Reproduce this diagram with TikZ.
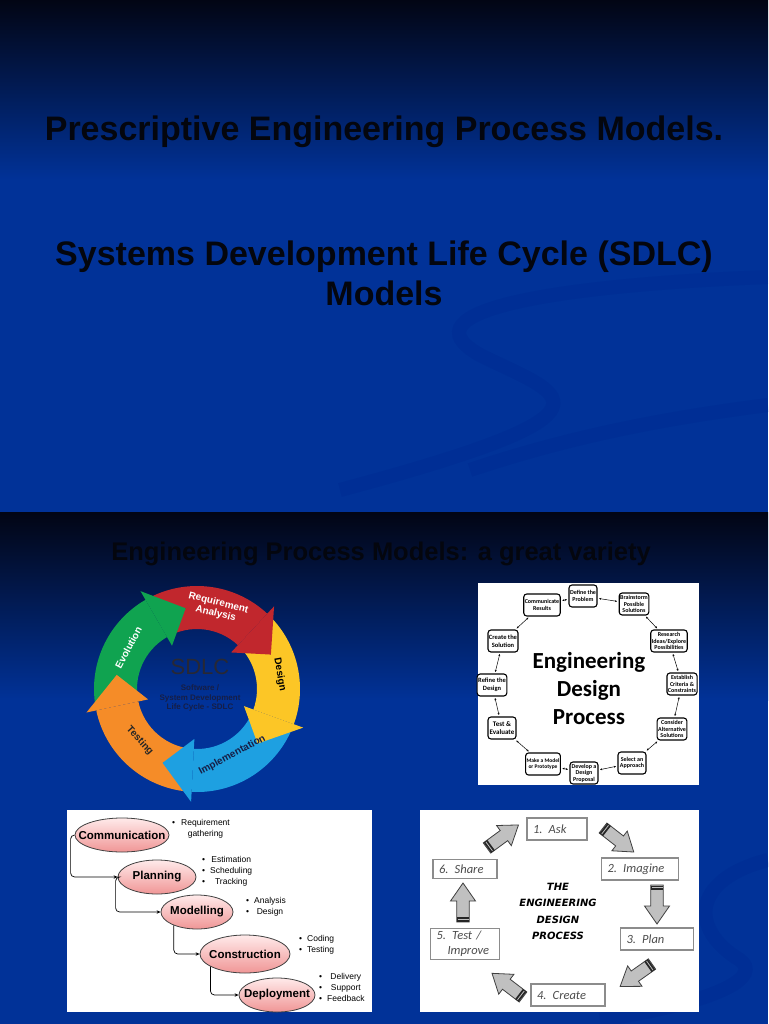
\documentclass[tikz,border=0pt]{standalone}
\usepackage{fontspec}
\setmainfont{Liberation Sans}
\newfontfamily\calfont{Carlito}
\newfontfamily\dvfont{DejaVu Sans}
\usetikzlibrary{arrows.meta,shapes.geometric,calc}

\definecolor{slideblue}{RGB}{1,50,152}
\definecolor{slidetop}{RGB}{2,5,20}
\definecolor{titleink}{RGB}{4,6,14}
\definecolor{sdlcred}{RGB}{193,39,45}
\definecolor{sdlcyellow}{RGB}{252,198,38}
\definecolor{sdlcblue}{RGB}{30,160,225}
\definecolor{sdlcorange}{RGB}{245,140,40}
\definecolor{sdlcgreen}{RGB}{16,163,80}
\definecolor{sdlcgray}{RGB}{40,40,52}
\definecolor{sdlcnavy}{RGB}{22,30,70}
\definecolor{pinktop}{RGB}{255,234,234}
\definecolor{pinkbot}{RGB}{240,150,150}
\definecolor{arrgray}{RGB}{192,192,192}

\newcommand\fsz[2]{\fontsize{#1}{#2}\selectfont}

\tikzset{
  titletext/.style={font=\bfseries\fsz{34}{40}, text=titleink, inner sep=0},
  swoosh/.style={line width=14, draw=blue!45!black, opacity=0.08},
  ringlbl/.style={font=\bfseries\fsz{10}{11}, inner sep=0, align=center},
  edpbox/.style={draw, rounded corners=3, line width=1.1, fill=white,
    minimum width=28, minimum height=22, inner sep=1, align=center,
    font=\calfont\bfseries\fsz{6}{6.5}},
  duoarr/.style={{Stealth[length=2.2,width=2]}-{Stealth[length=2.2,width=2]},
    line width=0.5, shorten <=1.5, shorten >=1.5},
  phase/.style={ellipse, draw=black!75, line width=0.8, top color=pinktop,
    bottom color=pinkbot, inner sep=0},
  phasetext/.style={font=\bfseries\fsz{11.5}{12}, inner sep=0},
  flow/.style={-{Stealth[length=4,width=3.5]}, line width=0.7, rounded corners=4},
  bul/.style={font=\fsz{8.5}{11}, anchor=west, inner sep=0},
  stepbox/.style={draw=black!45, line width=1.1, fill=white, inner xsep=6,
    inner ysep=3, minimum height=22, align=left, text=black!70,
    font=\calfont\itshape\fsz{12.5}{15}},
  barrow/.pic={
    \fill[arrgray, draw=black!75, line width=0.8] (0,-6.3) -- (21,-6.3) -- (21,-12.5)
      -- (39,0) -- (21,12.5) -- (21,6.3) -- (0,6.3) -- cycle;
    \fill[black!85] (0.5,-6.3) rectangle (5,6.3);
    \draw[arrgray, line width=0.8] (2.7,-5.5) -- (2.7,5.5);
  }
}

\begin{document}
\begin{tikzpicture}[x=1pt, y=-1pt]
\useasboundingbox (0,0) rectangle (768,1024);

% slides
\shade[top color=slidetop, bottom color=slideblue] (0,0) rectangle (768,180);
\fill[slideblue] (0,180) rectangle (768,512);
\shade[top color=slidetop, bottom color=slideblue] (0,512) rectangle (768,700);
\fill[slideblue] (0,700) rectangle (768,1024);
\draw[swoosh] (768,277) .. controls (560,285) and (400,310) .. (480,355)
  .. controls (560,395) and (640,410) .. (340,490);
\draw[swoosh] (768,405) .. controls (650,420) and (560,440) .. (470,470);
\draw[swoosh] (768,860) .. controls (690,880) and (690,930) .. (740,960)
  .. controls (760,975) and (730,1000) .. (600,1020);

\node[titletext, anchor=base] (head1) at (384,141) {Prescriptive Engineering Process Models.};
\node[titletext, anchor=base] (head2) at (384,265) {Systems Development Life Cycle (SDLC)};
\node[titletext, anchor=base] (head3) at (384,305) {Models};
\node[titletext, font=\bfseries\fsz{25.5}{30}, anchor=base] (head4) at (381,560)
  {Engineering Process Models: a great variety};

% SDLC ring
\begin{scope}[shift={(197,689)}, yscale=-1]
  \foreach \s/\b/\col in {120/47/sdlcred, 47/-20/sdlcyellow, -20/-93/sdlcblue,
                          -93/-168/sdlcorange, 192/120/sdlcgreen}
    \fill[\col] (\s:103) arc[start angle=\s, end angle=\b, radius=103]
      -- (\b:60) arc[start angle=\b, end angle=\s, radius=60] -- ({\s-22}:81.5) -- cycle;
  \foreach \b/\col in {47/sdlcred, -20/sdlcyellow, -93/sdlcblue,
                       -168/sdlcorange, 120/sdlcgreen}
    \fill[\col] (\b:113) -- ({\b-22}:81.5) -- (\b:50) -- cycle;
  \node[ringlbl, text=white, rotate=-14] (req) at (76:83) {Requirement\\Analysis};
  \node[ringlbl, text=black, rotate=-80] (des) at (10:84) {Design};
  \node[ringlbl, text=sdlcnavy, rotate=28] (imp) at (-62:75) {Implementation};
  \node[ringlbl, text=black!85, rotate=-48] (tst) at (-138:77) {Testing};
  \node[ringlbl, text=white, rotate=62] (evo) at (149:80) {Evolution};
\end{scope}
\node[font=\fsz{22}{24}, text=sdlcgray, inner sep=0] (sdlc) at (200,667) {SDLC};
\node[font=\bfseries\fsz{8}{9.5}, text=sdlcnavy, align=center, inner sep=0] (sdlcsub)
  at (200,698) {Software /\\System Development\\Life Cycle - SDLC};

% engineering design process
\fill[white] (478,583) rectangle (699,785);
\node[font=\calfont\bfseries\fsz{23}{28}, align=center, inner sep=0] (edptitle)
  at (589,689) {Engineering\\Design\\Process};
\node[edpbox] (d1) at (583,596) {Define the\\Problem};
\node[edpbox] (d2) at (634,604) {Brainstorm\\Possible\\Solutions};
\node[edpbox] (d3) at (669,641) {Research\\Ideas/Explore\\Possibilities};
\node[edpbox] (d4) at (682,684) {Establish\\Criteria \&\\Constraints};
\node[edpbox] (d5) at (672,729) {Consider\\Alternative\\Solutions};
\node[edpbox] (d6) at (632,763) {Select an\\Approach};
\node[edpbox] (d7) at (584,773) {Develop a\\Design\\Proposal};
\node[edpbox, font=\calfont\bfseries\fsz{5.5}{6.5}] (d8) at (543,764) {Make a Model\\or Prototype};
\node[edpbox, font=\calfont\bfseries\fsz{7}{8}] (d9) at (502,728) {Test \&\\Evaluate};
\node[edpbox, font=\calfont\bfseries\fsz{6.5}{7.5}] (d10) at (492,685) {Refine the\\Design};
\node[edpbox, font=\calfont\bfseries\fsz{6.5}{7.5}] (d11) at (503,641) {Create the\\Solution};
\node[edpbox] (d12) at (542,605) {Communicate\\Results};
\foreach \a/\b in {d1/d2, d2/d3, d3/d4, d4/d5, d5/d6, d6/d7, d7/d8, d8/d9,
                   d9/d10, d10/d11, d11/d12, d12/d1}
  \draw[duoarr] (\a) -- (\b);

% waterfall
\fill[white] (67,810) rectangle (372,1012);
\node[phase, minimum width=94, minimum height=34, label={[phasetext]center:Communication}] (comm) at (122,835) {};
\node[phase, minimum width=78, minimum height=34, label={[phasetext]center:Planning}] (plan) at (157,877) {};
\node[phase, minimum width=72, minimum height=34, label={[phasetext]center:Modelling}] (mod) at (197,912) {};
\node[phase, minimum width=90, minimum height=38, label={[phasetext]center:Construction}] (cons) at (245,954) {};
\node[phase, minimum width=76, minimum height=34, label={[phasetext]center:Deployment}] (dep) at (277,995) {};
\draw[flow] (comm.west) -- ++(-4,0) |- (plan.west);
\draw[flow] (plan.west) -- ++(-2,0) |- (mod.west);
\draw[flow] (mod.210) |- (cons.west);
\draw[flow] (cons.200) |- (dep.west);
\node[bul] (commlist) at (172,829)
  {\begin{tabular}{@{}l@{\hspace{6pt}}c@{}}\textbullet & Requirement\\ & gathering\end{tabular}};
\node[bul] (planlist) at (202,871)
  {\begin{tabular}{@{}l@{\hspace{5pt}}c@{}}\textbullet & Estimation\\ \textbullet & Scheduling\\ \textbullet & Tracking\end{tabular}};
\node[bul] (modlist) at (246,906.5)
  {\begin{tabular}{@{}l@{\hspace{5pt}}c@{}}\textbullet & Analysis\\ \textbullet & Design\end{tabular}};
\node[bul] (conslist) at (299,944.5)
  {\begin{tabular}{@{}l@{\hspace{5pt}}c@{}}\textbullet & Coding\\ \textbullet & Testing\end{tabular}};
\node[bul] (deplist) at (319,988.5)
  {\begin{tabular}{@{}l@{\hspace{5pt}}c@{}}\textbullet & Delivery\\ \textbullet & Support\\ \textbullet & Feedback\end{tabular}};

% design process steps
\fill[white] (420,810) rectangle (699,1012);
\node[stepbox, text width=48] (ask) at (557,829) {1. Ask};
\node[stepbox, text width=65] (imagine) at (640,869) {2. Imagine};
\node[stepbox, text width=61] (plan3) at (657,939) {3. Plan};
\node[stepbox, text width=62] (create) at (568,995) {4. Create};
\node[stepbox, text width=57] (improve) at (465,944) {5. Test /\\\hspace*{11pt}Improve};
\node[stepbox, text width=52, minimum height=19] (share) at (465,869) {6. Share};
\node[font=\dvfont\bfseries\itshape\fsz{10}{16.3}, align=center, inner sep=0] (edp2)
  at (558,911.5) {THE\\ENGINEERING\\DESIGN\\PROCESS};
\coordinate (ta1) at (487,848);  \coordinate (ha1) at (517,826);
\coordinate (ta2) at (603,828);  \coordinate (ha2) at (635,853);
\coordinate (ta3) at (657,885);  \coordinate (ha3) at (657,924);
\coordinate (ta4) at (652,964);  \coordinate (ha4) at (618,988);
\coordinate (ta5) at (523,997);  \coordinate (ha5) at (489,971);
\coordinate (ta6) at (463,922);  \coordinate (ha6) at (463,883);
\foreach \i in {1,...,6}
  \path (ta\i) -- (ha\i) pic[pos=0, sloped, allow upside down] {barrow};
\end{tikzpicture}
\end{document}
